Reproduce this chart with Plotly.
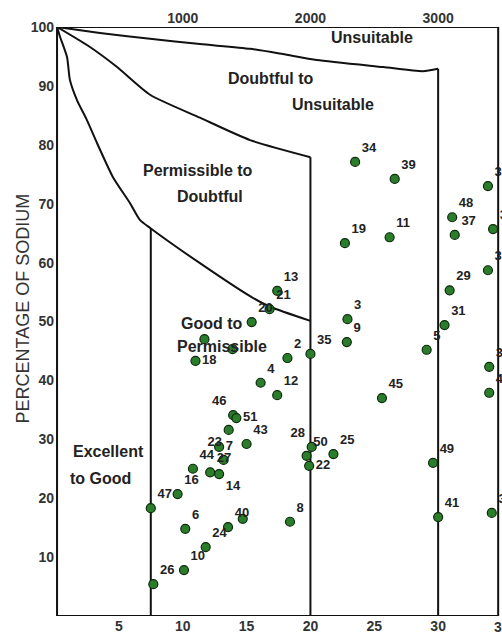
import plotly.graph_objects as go

# ---------------- data ----------------
sample_labels = ["34", "39", "36", "48", "37", "38", "19", "11", "33", "29",
                 "13", "21", "20", "3", "31", "9", "35", "2", "5", "32",
                 "", "", "18", "4", "12", "42", "45", "46", "51", "23",
                 "43", "7", "44", "27", "14", "", "16", "47", "28", "50",
                 "22", "25", "8", "49", "41", "30", "6", "40", "", "24",
                 "10", "26"]
concentration = [23.5, 26.6, 33.9, 31.1, 31.3, 34.3, 22.7, 26.2, 33.9, 30.9,
                 17.4, 16.8, 15.4, 22.9, 30.5, 22.85, 20.0, 18.2, 29.1, 34.0,
                 11.7, 13.9, 11.0, 16.1, 17.4, 34.0, 25.6, 13.95, 14.2, 13.6,
                 15.0, 12.85, 10.8, 12.15, 12.85, 13.2, 9.6, 7.5, 20.1, 19.7,
                 19.9, 21.8, 18.4, 29.6, 30.0, 34.2, 10.2, 13.55, 14.7, 11.8,
                 10.1, 7.7]
sodium_pct = [77.1, 74.2, 73.0, 67.7, 64.7, 65.7, 63.3, 64.3, 58.7, 55.3,
              55.2, 52.1, 49.9, 50.4, 49.4, 46.5, 44.5, 43.8, 45.2, 42.3,
              47.0, 45.3, 43.3, 39.6, 37.5, 37.9, 37.0, 34.1, 33.6, 31.6,
              29.2, 28.7, 25.0, 24.4, 24.1, 26.5, 20.7, 18.3, 28.7, 27.2,
              25.5, 27.5, 16.0, 26.0, 16.8, 17.5, 14.8, 15.1, 16.5, 11.7,
              7.8, 5.4]
label_side = ["top right"] * 20 + ["top right", "top right", "middle right", "top right",
              "top right", "top right", "top right", "top left", "middle right",
              "bottom left", "top right", "middle right", "top right", "top right",
              "bottom right", "top right", "top right", "top right", "top left",
              "top right", "middle right", "top right", "top right", "top right",
              "top right", "top right", "top right", "top right", "top right",
              "top right", "top right", "top right"]

# class boundaries (concentration, % Na)
bound1_x = [0.16, 3.52, 7.44, 11.35, 15.27, 17.85, 20.5, 25.7, 28.8, 30.0]
bound1_y = [100, 99.0, 98.0, 97.1, 96.3, 95.4, 94.4, 93.2, 92.5, 92.9]
bound2_x = [0.16, 2.74, 4.86, 7.44, 11.35, 15.27, 20.0]
bound2_y = [100, 96.6, 93.2, 88.5, 84.6, 80.8, 77.9]
bound3_x = [0.16, 0.4, 0.94, 1.17, 1.72, 2.5, 3.29, 4.54, 5.87, 6.66, 7.5,
            11.35, 15.27, 16.84, 20.0]
bound3_y = [100, 98.3, 94.9, 91.0, 87.6, 84.2, 80.3, 74.5, 70.1, 67.2, 65.8,
            59.9, 54.3, 52.5, 50.1]
vlines_x = [7.5, 20.0, 30.0, 34.7]
vlines_top = [65.8, 77.9, 92.9, 100]
frame_x = [0.16, 34.7]

y_ticks = [10, 20, 30, 40, 50, 60, 70, 80, 90, 100]
x_ticks = [5, 10, 15, 20, 25, 30]
x_edge_tick = 35
ec_ticks = [1000, 2000, 3000]

region_text = ["Unsuitable", "Doubtful to", "Unsuitable", "Permissible to", "Doubtful",
               "Good to", "Permissible", "Excellent", "to Good"]
region_x = [24.8, 16.9, 21.8, 11.2, 12.15, 12.3, 13.05, 4.18, 3.55]
region_y = [98.3, 91.3, 86.9, 75.7, 71.2, 49.7, 45.8, 28.0, 23.4]

FONT = "Liberation Sans, Arial, sans-serif"
LINE = dict(color="#111111", width=2)

fig = go.Figure()

for bx, by in [(bound1_x, bound1_y), (bound2_x, bound2_y), (bound3_x, bound3_y)]:
    fig.add_trace(go.Scatter(x=bx, y=by, mode="lines",
                             line=dict(color="#111111", width=2, shape="spline", smoothing=0.6),
                             hoverinfo="skip", showlegend=False, cliponaxis=False))

for vx, vt in zip(vlines_x, vlines_top):
    fig.add_trace(go.Scatter(x=[vx, vx], y=[0, vt], mode="lines", line=LINE,
                             hoverinfo="skip", showlegend=False, cliponaxis=False))

# frame: top, bottom, left
fig.add_trace(go.Scatter(x=[frame_x[1], frame_x[0], frame_x[0], frame_x[1]],
                         y=[100, 100, 0, 0], mode="lines", line=LINE,
                         hoverinfo="skip", showlegend=False, cliponaxis=False))

fig.add_trace(go.Scatter(
    x=concentration, y=sodium_pct, mode="markers+text",
    text=sample_labels, textposition=label_side,
    textfont=dict(family=FONT, size=13, color="#222222", weight="bold"),
    marker=dict(size=9, color="#2a7d2a", line=dict(color="#0d2a0d", width=1.2)),
    showlegend=False, cliponaxis=True))

# dummy trace to activate top axis
fig.add_trace(go.Scatter(x=[None], y=[None], xaxis="x2", showlegend=False))

for t, x, y in zip(region_text, region_x, region_y):
    fig.add_annotation(x=x, y=y, xref="x", yref="y", text=t, showarrow=False,
                       font=dict(family=FONT, size=16, color="#222222", weight="bold"),
                       xanchor="center", yanchor="middle")

fig.add_annotation(x=(22.5 - 55) / 447, y=(616 - 309) / 589, xref="paper", yref="paper",
                   text="PERCENTAGE OF SODIUM", textangle=-90, showarrow=False,
                   font=dict(family=FONT, size=18, color="#333333"),
                   xanchor="center", yanchor="middle")

tickfont = dict(family=FONT, size=14, color="#333333", weight="bold")

# the last bottom tick label sits on the page edge (cut off, as in the source)
fig.add_annotation(x=x_edge_tick, y=(616 - 627) / 589, xref="x", yref="paper",
                   text=str(x_edge_tick), showarrow=False, font=tickfont,
                   xanchor="center", yanchor="middle")

fig.update_layout(
    width=502, height=643,
    margin=dict(l=55, r=0, t=27, b=27),
    paper_bgcolor="white", plot_bgcolor="white",
    hovermode=False,
    xaxis=dict(range=[0, 35], tickvals=x_ticks, ticktext=[str(v) for v in x_ticks],
               showgrid=False, zeroline=False, showline=False, ticks="",
               tickfont=tickfont, fixedrange=True, automargin=False),
    xaxis2=dict(range=[0, 3500], overlaying="x", side="top", tickvals=ec_ticks,
                ticktext=[str(v) for v in ec_ticks], showgrid=False, zeroline=False,
                showline=False, ticks="", tickfont=tickfont, fixedrange=True,
                automargin=False),
    yaxis=dict(range=[0, 100], tickvals=y_ticks, ticktext=[str(v) for v in y_ticks],
               showgrid=False, zeroline=False, showline=False, ticks="",
               tickfont=tickfont, fixedrange=True, automargin=False),
)

fig.write_html("out.html",
               config={"displayModeBar": False, "staticPlot": True},
               post_script="document.body.style.margin='0';document.body.style.overflow='hidden';")
